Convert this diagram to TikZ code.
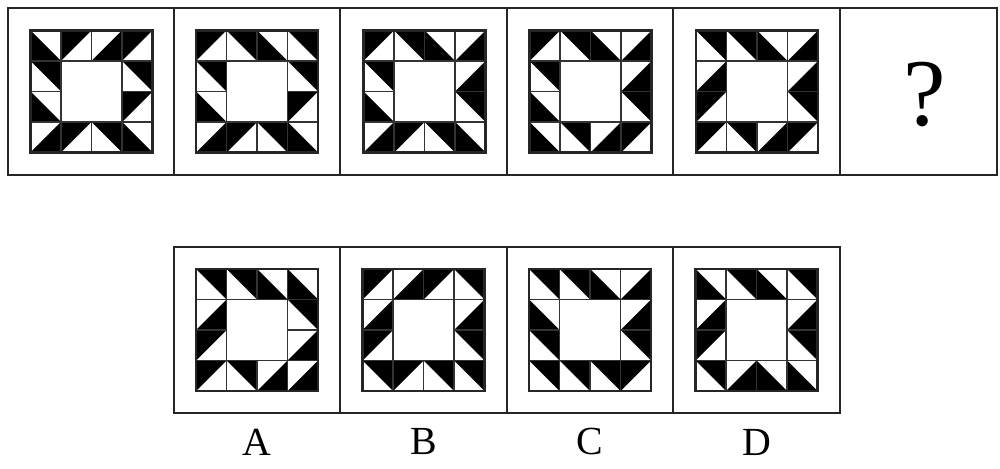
\documentclass[tikz,border=0pt]{standalone}
\usepackage{fontspec}
\setmainfont{Liberation Serif}
\usetikzlibrary{positioning}

\tikzset{
  panelline/.style={line width=1.8pt,black!85},
  gridline/.style={line width=1.1pt,black!80},
  gridedge/.style={line width=1.8pt,black!85},
}

\newcommand{\quiltblock}[3]{%
  \begin{scope}[shift={(#1,#2)},x=0.807cm,y=-0.807cm]
    \foreach \col/\row/\hx/\vy in {#3}
      \fill ({\col+\hx},{\row+\vy}) -- ({\col+1-\hx},{\row+\vy}) -- ({\col+\hx},{\row+1-\vy}) -- cycle;
    \draw[gridline] (0,1) -- (4,1) (0,3) -- (4,3) (1,0) -- (1,4) (3,0) -- (3,4)
      (0,2) -- (1,2) (3,2) -- (4,2) (2,0) -- (2,1) (2,3) -- (2,4);
    \draw[gridedge] (0,0) rectangle (4,4);
  \end{scope}}

\begin{document}
\begin{tikzpicture}[x=0.02646cm,y=-0.02646cm]
  \useasboundingbox (0,0) rectangle (1000,469);
  \fill[white] (0,0) rectangle (1000,469);
  \draw[panelline] (8,8) rectangle (997,175);
  \foreach \x in {174,340,507,673,840}
    \draw[panelline] (\x,8) -- (\x,175);
  \draw[panelline] (174,247) rectangle (840,413);
  \foreach \x in {340,507,673}
    \draw[panelline] (\x,247) -- (\x,413);
  \quiltblock{30.5}{30.5}{0/0/0/1,1/0/0/0,2/0/1/1,3/0/0/0,0/1/1/0,3/1/1/0,0/2/0/1,3/2/0/0,0/3/1/1,1/3/0/0,2/3/1/0,3/3/0/1}
  \quiltblock{196}{30.5}{0/0/0/0,1/0/1/0,2/0/0/1,3/0/1/0,0/1/1/0,3/1/1/0,0/2/0/1,3/2/0/0,0/3/1/1,1/3/0/0,2/3/1/0,3/3/0/1}
  \quiltblock{363.5}{30.5}{0/0/0/0,1/0/1/0,2/0/0/1,3/0/1/1,0/1/1/0,3/1/1/1,0/2/0/1,3/2/1/0,0/3/1/1,1/3/0/0,2/3/1/0,3/3/0/1}
  \quiltblock{529.5}{30.5}{0/0/0/0,1/0/1/0,2/0/0/1,3/0/1/1,0/1/1/0,3/1/1/1,0/2/0/1,3/2/1/0,0/3/0/1,1/3/1/0,2/3/1/1,3/3/0/0}
  \quiltblock{696}{30.5}{0/0/1/0,1/0/1/0,2/0/0/1,3/0/1/1,0/1/1/1,3/1/1/1,0/2/0/0,3/2/1/0,0/3/0/0,1/3/1/0,2/3/1/1,3/3/0/0}
  \node[font=\fontsize{72}{80}\selectfont] (ask) at (925,95) {?};
  \quiltblock{196}{269}{0/0/1/0,1/0/1/0,2/0/0/1,3/0/0/1,0/1/1/1,3/1/1/0,0/2/0/0,3/2/1/1,0/3/0/0,1/3/1/0,2/3/1/1,3/3/1/1}
  \quiltblock{362.5}{269}{0/0/0/0,1/0/1/1,2/0/0/0,3/0/1/0,0/1/1/1,3/1/1/1,0/2/0/0,3/2/1/0,0/3/1/0,1/3/0/0,2/3/1/0,3/3/1/0}
  \quiltblock{529}{269}{0/0/1/0,1/0/1/0,2/0/0/1,3/0/1/1,0/1/0/1,3/1/1/1,0/2/1/0,3/2/1/0,0/3/1/0,1/3/1/0,2/3/1/0,3/3/0/0}
  \quiltblock{695.5}{269}{0/0/0/1,1/0/1/0,2/0/0/1,3/0/1/0,0/1/1/1,3/1/1/1,0/2/0/0,3/2/1/0,0/3/1/0,1/3/1/1,2/3/0/1,3/3/0/1}
  \foreach \x/\l in {257/A,423.5/B,590/C,756.5/D}
    \node[font=\fontsize{30}{36}\selectfont] (opt\l) at (\x,442) {\l};
\end{tikzpicture}
\end{document}
